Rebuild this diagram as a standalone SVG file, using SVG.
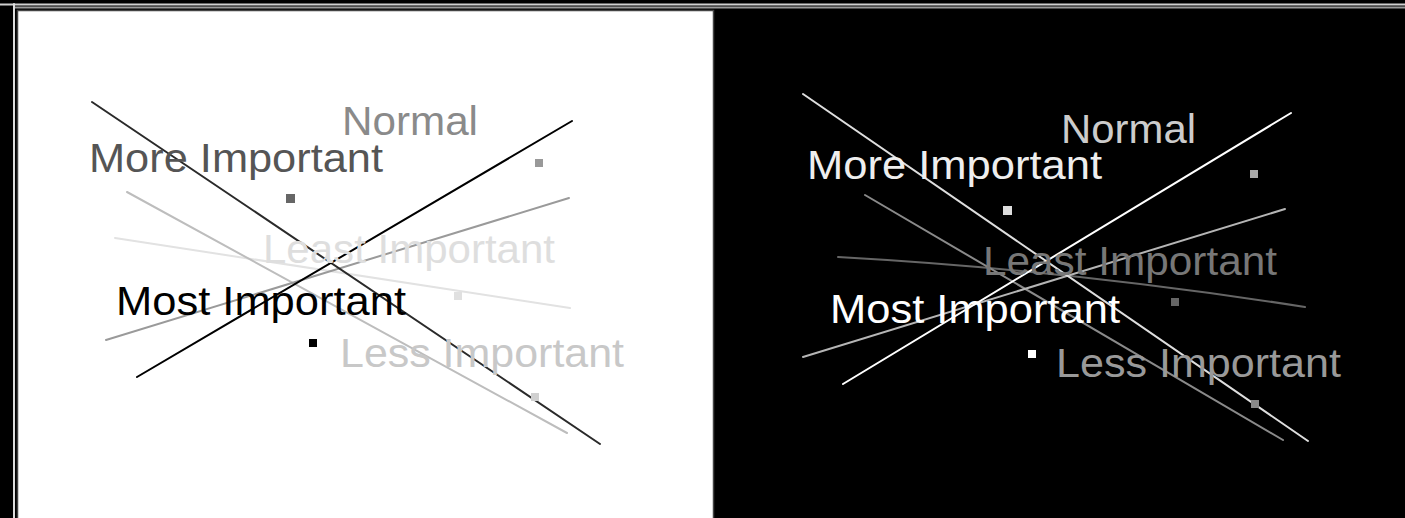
<svg xmlns="http://www.w3.org/2000/svg" width="1405" height="518" viewBox="0 0 1405 518">
<style>
text{font-family:"Liberation Sans",Arial,sans-serif;font-size:40px;}
line,path{stroke-width:2;fill:none;stroke-linecap:round;}
</style>
<rect x="0" y="0" width="1405" height="518" fill="#000"/>
<g id="frame">
<line x1="0" y1="4.5" x2="1405" y2="4.5" stroke="#cfcfcf" stroke-width="1.5"/>
<line x1="14" y1="7.5" x2="1405" y2="7.5" stroke="#9a9a9a" stroke-width="1"/>
<line x1="14" y1="4" x2="14" y2="518" stroke="#dcdcdc" stroke-width="2"/>
<rect x="17.5" y="10.5" width="696" height="510" fill="#fff" stroke="#444" stroke-width="1.5"/>
</g>
<g id="connectors">
<line x1="115" y1="238" x2="570" y2="308" stroke="#e2e2e2"/>
<line x1="127" y1="192" x2="567" y2="433" stroke="#bdbdbd"/>
<line x1="106" y1="340" x2="569" y2="198" stroke="#9a9a9a"/>
<line x1="92" y1="102" x2="600" y2="444" stroke="#2a2a2a"/>
<line x1="137" y1="377" x2="572" y2="121" stroke="#000"/>
<path d="M838 257 Q1070 270 1305 307" stroke="#666"/>
<line x1="865" y1="195" x2="1283" y2="440" stroke="#8a8a8a"/>
<line x1="803" y1="357" x2="1285" y2="209" stroke="#b5b5b5"/>
<line x1="803" y1="94" x2="1308" y2="441" stroke="#dedede"/>
<line x1="843" y1="384" x2="1291" y2="113" stroke="#fff"/>
</g>
<g id="left-least">
<text x="263" y="263" fill="#dedede" textLength="292" lengthAdjust="spacingAndGlyphs">Least Important</text>
<rect x="454" y="292" width="8" height="8" fill="#e0e0e0"/>
</g>
<g id="left-less">
<text x="340" y="367" fill="#c8c8c8" textLength="284" lengthAdjust="spacingAndGlyphs">Less Important</text>
<rect x="531" y="393" width="8" height="8" fill="#d0d0d0"/>
</g>
<g id="left-normal">
<text x="342" y="135" fill="#8a8a8a" textLength="136" lengthAdjust="spacingAndGlyphs">Normal</text>
<rect x="535" y="159" width="8" height="8" fill="#999"/>
</g>
<g id="left-more">
<text x="89" y="172" fill="#555" textLength="294" lengthAdjust="spacingAndGlyphs">More Important</text>
<rect x="286" y="194" width="9" height="9" fill="#666"/>
</g>
<g id="left-most">
<text x="116" y="315" fill="#000" textLength="290" lengthAdjust="spacingAndGlyphs">Most Important</text>
<rect x="309" y="339" width="8" height="8" fill="#000"/>
</g>
<g id="right-least">
<text x="983" y="275" fill="#777" textLength="294" lengthAdjust="spacingAndGlyphs">Least Important</text>
<rect x="1171" y="298" width="8" height="8" fill="#666"/>
</g>
<g id="right-less">
<text x="1056" y="377" fill="#999" textLength="285" lengthAdjust="spacingAndGlyphs">Less Important</text>
<rect x="1251" y="400" width="8" height="8" fill="#888"/>
</g>
<g id="right-normal">
<text x="1061" y="143" fill="#ccc" textLength="135" lengthAdjust="spacingAndGlyphs">Normal</text>
<rect x="1250" y="170" width="8" height="8" fill="#aaa"/>
</g>
<g id="right-more">
<text x="807" y="179" fill="#eee" textLength="295" lengthAdjust="spacingAndGlyphs">More Important</text>
<rect x="1003" y="206" width="9" height="9" fill="#ddd"/>
</g>
<g id="right-most">
<text x="830" y="323" fill="#fff" textLength="290" lengthAdjust="spacingAndGlyphs">Most Important</text>
<rect x="1028" y="350" width="8" height="8" fill="#fff"/>
</g>
</svg>
